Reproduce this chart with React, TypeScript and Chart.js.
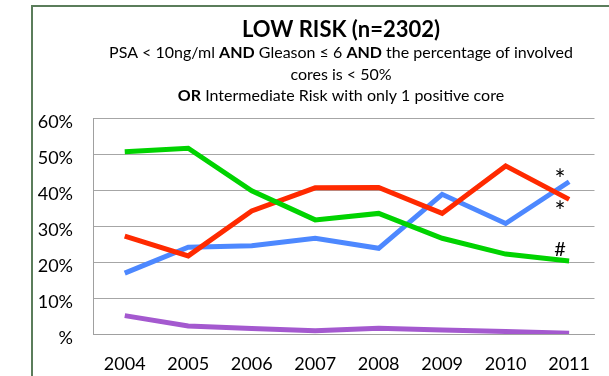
import React, { useEffect, useRef } from 'react';
import { Chart, registerables } from 'chart.js';

Chart.register(...registerables);

// ---- Data ----
const years = [2004, 2005, 2006, 2007, 2008, 2009, 2010, 2011];
const greenValues = [50.6, 51.6, 39.8, 31.7, 33.5, 26.6, 22.2, 20.3];
const redValues = [27.2, 21.7, 34.2, 40.6, 40.7, 33.5, 46.7, 37.4];
const blueValues = [16.9, 24.1, 24.5, 26.6, 23.8, 38.8, 30.7, 42.3];
const purpleValues = [5.1, 2.2, 1.5, 0.9, 1.6, 1.1, 0.7, 0.2];
const yTickValues = [0, 10, 20, 30, 40, 50, 60];
const yTickLabels = ['%', '10%', '20%', '30%', '40%', '50%', '60%'];

const titleText = 'LOW RISK (n=2302)';
const subtitleLine1 = [
  { text: 'PSA < 10ng/ml ', bold: false },
  { text: 'AND', bold: true },
  { text: ' Gleason \u2264 6 ', bold: false },
  { text: 'AND', bold: true },
  { text: ' the percentage of involved', bold: false },
];
const subtitleLine2 = [{ text: 'cores is < 50%', bold: false }];
const subtitleLine3 = [
  { text: 'OR', bold: true },
  { text: ' Intermediate Risk with only 1 positive core', bold: false },
];

// markers at last point: [datasetIndex, symbol]
const markerSeries = [2, 1, 0];
const markerSymbols = ['*', '*', '#'];

const FONT = 'Lato, "Open Sans", "DejaVu Sans", sans-serif';

const textPlugin = {
  id: 'textPlugin',
  afterDraw(chart: any) {
    const ctx = chart.ctx;
    ctx.save();
    ctx.fillStyle = '#000';
    ctx.textBaseline = 'alphabetic';
    const cx = 341;
    // title
    ctx.font = `bold 22px ${FONT}`;
    ctx.textAlign = 'center';
    ctx.fillText(titleText, cx, 37);
    ctx.textAlign = 'left';
    const drawLine = (segs: { text: string; bold: boolean }[], y: number) => {
      let total = 0;
      const widths = segs.map((s) => {
        ctx.font = `${s.bold ? 'bold ' : ''}16px ${FONT}`;
        const w = ctx.measureText(s.text).width;
        total += w;
        return w;
      });
      let x = cx - total / 2;
      segs.forEach((s, i) => {
        ctx.font = `${s.bold ? 'bold ' : ''}16px ${FONT}`;
        ctx.fillText(s.text, x, y);
        x += widths[i];
      });
    };
    drawLine(subtitleLine1, 58);
    drawLine(subtitleLine2, 80);
    drawLine(subtitleLine3, 101);

    // markers
    const xs = chart.scales.x;
    const ys = chart.scales.y;
    ctx.textAlign = 'center';
    ctx.textBaseline = 'middle';
    const offsets = [-1, 13, -11];
    markerSeries.forEach((di, i) => {
      const data = chart.data.datasets[di].data;
      const last = data[data.length - 1];
      const px = xs.getPixelForValue(last.x) - 9;
      const py = ys.getPixelForValue(last.y) + offsets[i];
      ctx.font = markerSymbols[i] === '*' ? `26px ${FONT}` : `20px ${FONT}`;
      ctx.fillText(markerSymbols[i], px, py);
    });
    ctx.restore();
  },
};

const toPoints = (vals: number[]) => vals.map((v, i) => ({ x: years[i], y: v }));

export default function App() {
  const ref = useRef<HTMLCanvasElement>(null);
  useEffect(() => {
    if (!ref.current) return;
    const chart = new Chart(ref.current, {
      type: 'line',
      data: {
        datasets: [
          { data: toPoints(greenValues), borderColor: '#00d300', label: 'green' },
          { data: toPoints(redValues), borderColor: '#ff2a00', label: 'red' },
          { data: toPoints(blueValues), borderColor: '#4d88ff', label: 'blue' },
          { data: toPoints(purpleValues), borderColor: '#a459cf', label: 'purple' },
        ].map((d) => ({
          ...d,
          borderWidth: 5,
          pointRadius: 0,
          pointHoverRadius: 0,
          tension: 0,
          fill: false,
          borderJoinStyle: 'miter' as const,
        })),
      },
      options: {
        animation: false,
        responsive: false,
        devicePixelRatio: 1,
        events: [],
        layout: { padding: { top: 118, left: 0, right: 0, bottom: 0 } },
        plugins: {
          legend: { display: false },
          title: { display: false },
          tooltip: { enabled: false },
        },
        scales: {
          x: {
            type: 'linear',
            min: 2003.5,
            max: 2011.4,
            afterFit: (s: any) => {
              s.height = 42;
            },
            afterBuildTicks: (s: any) => {
              s.ticks = years.map((v) => ({ value: v }));
            },
            grid: { display: false, drawTicks: false },
            border: { display: true, color: '#a0a0a0', width: 1 },
            ticks: {
              color: '#000',
              font: { family: FONT, size: 18 },
              padding: 19,
              maxRotation: 0,
              autoSkip: false,
              callback: (v: any) => String(v),
            },
          },
          y: {
            type: 'linear',
            min: 0,
            max: 60,
            afterFit: (s: any) => {
              s.width = 93;
            },
            afterBuildTicks: (s: any) => {
              s.ticks = yTickValues.map((v) => ({ value: v }));
            },
            grid: { color: '#a6a6a6', drawTicks: false, lineWidth: 1 },
            border: { display: true, color: '#a0a0a0', width: 1 },
            ticks: {
              color: '#000',
              font: { family: FONT, size: 18 },
              padding: 20,
              labelOffset: 4,
              callback: (v: any) => yTickLabels[yTickValues.indexOf(v)] ?? '',
            },
          },
        },
      },
      plugins: [textPlugin],
    });
    return () => chart.destroy();
  }, []);

  return (
    <div
      style={{
        position: 'fixed',
        left: 0,
        top: 0,
        width: 609,
        height: 376,
        overflow: 'hidden',
        background: '#fff',
      }}
    >
      <div
        style={{
          position: 'absolute',
          left: 31,
          top: 5,
          width: 800,
          height: 600,
          border: '2px solid #5b7d5b',
        }}
      />
      <canvas
        ref={ref}
        width={609}
        height={376}
        style={{ position: 'absolute', left: 0, top: 0, width: 609, height: 376 }}
      />
    </div>
  );
}
